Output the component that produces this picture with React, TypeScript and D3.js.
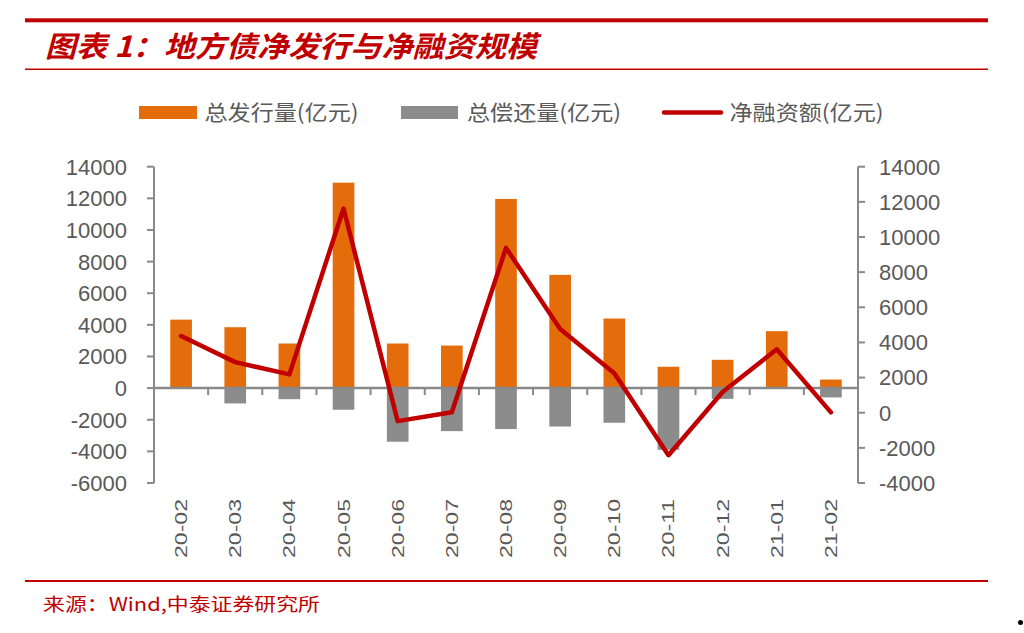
import React from "react";
import * as d3 from "d3";

const months = ["20-02", "20-03", "20-04", "20-05", "20-06", "20-07", "20-08", "20-09", "20-10", "20-11", "20-12", "21-01", "21-02"];
const issuance = [4330, 3850, 2820, 12990, 2820, 2690, 11960, 7160, 4400, 1350, 1790, 3600, 540];
const repayment = [0, -970, -700, -1370, -3390, -2720, -2590, -2430, -2190, -3900, -680, 0, -590];
const netFinancing = [4360, 2880, 2180, 11620, -480, 30, 9380, 4760, 2240, -2420, 1180, 3610, 20];
const leftTicks = [14000, 12000, 10000, 8000, 6000, 4000, 2000, 0, -2000, -4000, -6000];
const rightTicks = [14000, 12000, 10000, 8000, 6000, 4000, 2000, 0, -2000, -4000];
const legendLabels = ["总发行量(亿元)", "总偿还量(亿元)", "净融资额(亿元)"];
const titleText = "图表 1：地方债净发行与净融资规模";
const sourceText = "来源：Wind,中泰证券研究所";

const RED = "#C00000";
const ORANGE = "#E46C0A";
const GRAY = "#8C8C8C";
const AXIS = "#898989";
const LABEL = "#595959";
const CJK = "'Noto Sans CJK SC', 'Noto Sans', sans-serif";
const NUM = "'Liberation Sans', Arial, sans-serif";

export default function App() {
  const left = 154, right = 858, top = 166.7, bottom = 483;
  const x = d3.scaleBand<string>().domain(months).range([left, right]).paddingInner(0.6).paddingOuter(0.3);
  const step = x.step();
  const yL = d3.scaleLinear().domain([-6000, 14000]).range([bottom, top]);
  const yR = d3.scaleLinear().domain([-4000, 14000]).range([bottom, top]);
  const cx = (m: string) => (x(m) as number) + x.bandwidth() / 2;
  const line = d3.line<number>().x((_, i) => cx(months[i])).y((d) => yR(d));
  const zero = yL(0);

  return (
    <svg width={1024} height={633} style={{ position: "absolute", left: 0, top: 0, background: "#fff" }}>
      {/* header */}
      <rect x={25} y={18.3} width={963} height={4} fill={RED} />
      <text x={45} y={57} fontFamily={CJK} fontSize={29} fontWeight={700} fontStyle="italic" fill={RED}
        textLength={492} lengthAdjust="spacingAndGlyphs">{titleText}</text>
      <line x1={25} x2={988} y1={69.3} y2={69.3} stroke={RED} strokeWidth={1.5} />

      {/* legend */}
      <rect x={139} y={106} width={58} height={13} fill={ORANGE} />
      <text x={204.5} y={120} fontFamily={CJK} fontSize={21} fill={LABEL} textLength={154} lengthAdjust="spacingAndGlyphs">{legendLabels[0]}</text>
      <rect x={401} y={106} width={57} height={13} fill={GRAY} />
      <text x={467} y={120} fontFamily={CJK} fontSize={21} fill={LABEL} textLength={154} lengthAdjust="spacingAndGlyphs">{legendLabels[1]}</text>
      <line x1={664} x2={721} y1={112.5} y2={112.5} stroke={RED} strokeWidth={4.5} strokeLinecap="round" />
      <text x={729.5} y={120} fontFamily={CJK} fontSize={21} fill={LABEL} textLength={154} lengthAdjust="spacingAndGlyphs">{legendLabels[2]}</text>

      {/* bars */}
      {months.map((m, i) => (
        <rect key={"o" + m} x={x(m)} y={yL(Math.max(0, issuance[i]))} width={x.bandwidth()}
          height={Math.abs(yL(issuance[i]) - zero)} fill={ORANGE} />
      ))}
      {months.map((m, i) => (
        <rect key={"g" + m} x={x(m)} y={zero} width={x.bandwidth()}
          height={Math.abs(yL(repayment[i]) - zero)} fill={GRAY} />
      ))}

      {/* left axis */}
      <line x1={left} x2={left} y1={top} y2={bottom} stroke={AXIS} strokeWidth={2} />
      {leftTicks.map((t) => (
        <g key={"l" + t}>
          <line x1={left - 7} x2={left} y1={yL(t)} y2={yL(t)} stroke={AXIS} strokeWidth={2} />
          <text x={127} y={yL(t)} dy="0.36em" textAnchor="end" fontFamily={NUM} fontSize={22} fill={LABEL}>{t}</text>
        </g>
      ))}

      {/* right axis */}
      <line x1={right} x2={right} y1={top} y2={bottom} stroke={AXIS} strokeWidth={2} />
      {rightTicks.map((t) => (
        <g key={"r" + t}>
          <line x1={right} x2={right + 7} y1={yR(t)} y2={yR(t)} stroke={AXIS} strokeWidth={2} />
          <text x={879} y={yR(t)} dy="0.36em" textAnchor="start" fontFamily={NUM} fontSize={22} fill={LABEL}>{t}</text>
        </g>
      ))}

      {/* category axis */}
      <line x1={left} x2={right} y1={zero} y2={zero} stroke={AXIS} strokeWidth={2.5} />
      {months.slice(1).map((m) => (
        <line key={"t" + m} x1={(x(m) as number) - (step - x.bandwidth()) / 2} x2={(x(m) as number) - (step - x.bandwidth()) / 2}
          y1={zero} y2={zero + 7} stroke={AXIS} strokeWidth={2} />
      ))}
      {months.map((m) => (
        <text key={"x" + m} transform={`translate(${cx(m) + 6},499) rotate(-90)`} textAnchor="end"
          fontFamily={NUM} fontSize={17} fill={LABEL} textLength={59} lengthAdjust="spacingAndGlyphs">{m}</text>
      ))}

      {/* net financing line */}
      <path d={line(netFinancing) || ""} fill="none" stroke={RED} strokeWidth={4.5} strokeLinejoin="round" strokeLinecap="round" />

      {/* footer */}
      <line x1={25} x2={988} y1={581} y2={581} stroke={RED} strokeWidth={2} />
      <text x={43} y={611} fontFamily={CJK} fontSize={18} fill={RED} textLength={277} lengthAdjust="spacingAndGlyphs">{sourceText}</text>
      <circle cx={1020.5} cy={622.5} r={2.5} fill="#000" />
    </svg>
  );
}
